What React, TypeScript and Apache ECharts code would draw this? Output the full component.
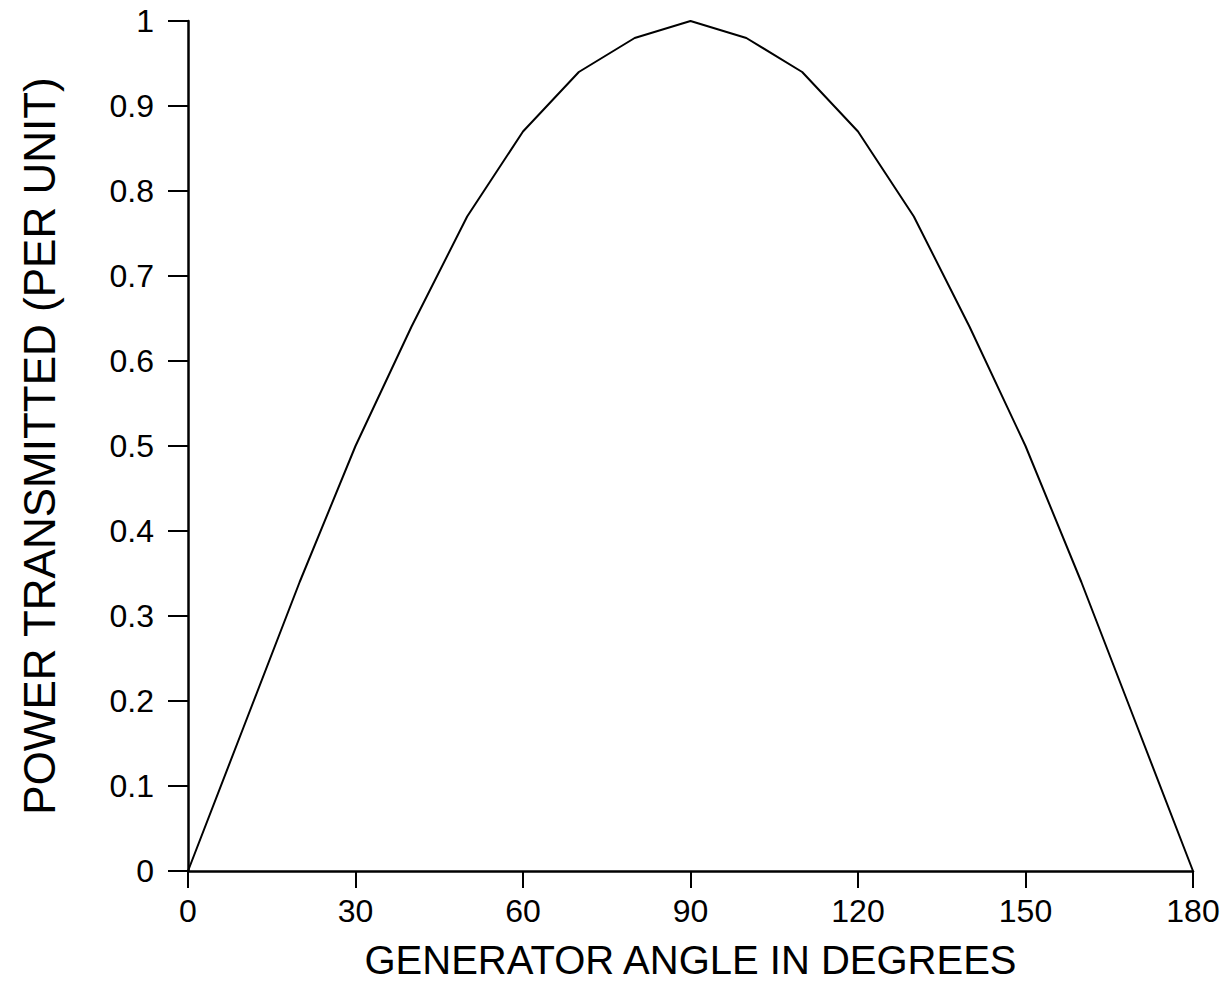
import React, { useEffect, useRef } from "react";
import * as echarts from "echarts";

const angles = [0, 10, 20, 30, 40, 50, 60, 70, 80, 90, 100, 110, 120, 130, 140, 150, 160, 170, 180];
const power = [0, 0.17, 0.34, 0.5, 0.64, 0.77, 0.87, 0.94, 0.98, 1.0, 0.98, 0.94, 0.87, 0.77, 0.64, 0.5, 0.34, 0.17, 0];
const xTitle = "GENERATOR ANGLE IN DEGREES";
const yTitle = "POWER TRANSMITTED (PER UNIT)";

const FONT = "'Liberation Sans', Arial, sans-serif";

export default function App() {
  const ref = useRef<HTMLDivElement>(null);
  useEffect(() => {
    if (!ref.current) return;
    const chart = echarts.init(ref.current, undefined, { renderer: "svg" });
    chart.setOption({
      animation: false,
      backgroundColor: "#fff",
      grid: { left: 188, right: 37, top: 21, bottom: 113, containLabel: false, outerBoundsMode: "none" },
      xAxis: {
        type: "value",
        min: 0,
        max: 180,
        interval: 30,
        name: xTitle,
        nameLocation: "middle",
        nameGap: 69,
        nameTextStyle: { fontFamily: FONT, fontSize: 40, color: "#000" },
        axisLine: { show: true, lineStyle: { color: "#000", width: 2.5 } },
        axisTick: { show: true, inside: false, length: 17, lineStyle: { color: "#000", width: 2 } },
        axisLabel: { margin: 24, fontFamily: FONT, fontSize: 32, color: "#000" },
        splitLine: { show: false },
      },
      yAxis: {
        type: "value",
        min: 0,
        max: 1,
        interval: 0.1,
        name: yTitle,
        nameLocation: "middle",
        nameGap: 127,
        nameRotate: 90,
        nameTextStyle: { fontFamily: FONT, fontSize: 44, color: "#000" },
        axisLine: { show: true, lineStyle: { color: "#000", width: 2.5 } },
        axisTick: { show: true, inside: false, length: 20, lineStyle: { color: "#000", width: 2 } },
        axisLabel: {
          margin: 34,
          fontFamily: FONT,
          fontSize: 32,
          color: "#000",
          formatter: (v: number) => String(+v.toFixed(1)),
        },
        splitLine: { show: false },
      },
      series: [
        {
          type: "line",
          data: angles.map((a, i) => [a, power[i]]),
          showSymbol: false,
          smooth: false,
          lineStyle: { color: "#000", width: 2 },
        },
      ],
    });
    return () => chart.dispose();
  }, []);
  return <div ref={ref} style={{ width: 1230, height: 984, margin: -8 }} />;
}
